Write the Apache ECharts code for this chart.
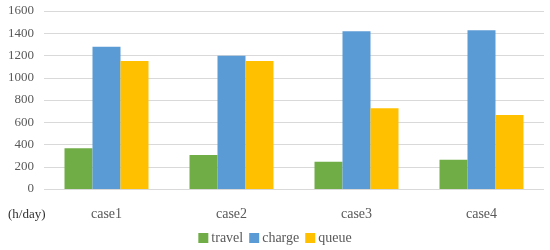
<!DOCTYPE html>
<html>
<head>
<meta charset="utf-8">
<script src="https://cdn.jsdelivr.net/npm/echarts@6/dist/echarts.min.js"></script>
<style>
  html, body { margin: 0; padding: 0; background: #fff; }
  #main { width: 550px; height: 250px; }
</style>
</head>
<body>
<div id="main"></div>
<script>
// data
var categories = ['case1', 'case2', 'case3', 'case4'];
var travel = [366, 305, 245, 263];
var charge = [1279, 1198, 1417, 1426];
var queue = [1150, 1150, 725, 665];
var yTicks = [0, 200, 400, 600, 800, 1000, 1200, 1400, 1600];

var font = '"Liberation Serif", "Times New Roman", serif';
var grey = '#595959';

var chart = echarts.init(document.getElementById('main'));

var option = {
  animation: false,
  textStyle: { fontFamily: font },
  grid: { left: 44, right: 6, top: 11, bottom: 61 },
  legend: {
    bottom: 0,
    left: 'center',
    itemWidth: 10,
    itemHeight: 10,
    itemGap: 6,
    icon: 'rect',
    textStyle: { fontFamily: font, fontSize: 14, color: grey, padding: [0, 0, 0, -2] },
    data: ['travel', 'charge', 'queue']
  },
  graphic: [{
    type: 'text',
    left: 8,
    top: 208,
    style: { text: '(h/day)', font: '13px ' + font, fill: '#333' }
  }],
  xAxis: {
    type: 'category',
    data: categories,
    axisLine: { show: false },
    axisTick: { show: false },
    axisLabel: { fontFamily: font, fontSize: 14, color: grey, margin: 18 }
  },
  yAxis: {
    type: 'value',
    min: yTicks[0],
    max: yTicks[yTicks.length - 1],
    interval: 200,
    axisLine: { show: false },
    axisTick: { show: false },
    splitLine: { lineStyle: { color: '#d9d9d9', width: 1 } },
    axisLabel: {
      fontFamily: font, fontSize: 13, color: grey, margin: 10,
      formatter: function (v) { return String(v); }
    }
  },
  series: [
    { name: 'travel', type: 'bar', data: travel, barWidth: 28, barGap: '0%', itemStyle: { color: '#70AD47' } },
    { name: 'charge', type: 'bar', data: charge, barWidth: 28, barGap: '0%', itemStyle: { color: '#5B9BD5' } },
    { name: 'queue', type: 'bar', data: queue, barWidth: 28, barGap: '0%', itemStyle: { color: '#FFC000' } }
  ]
};

chart.setOption(option);
</script>
</body>
</html>
